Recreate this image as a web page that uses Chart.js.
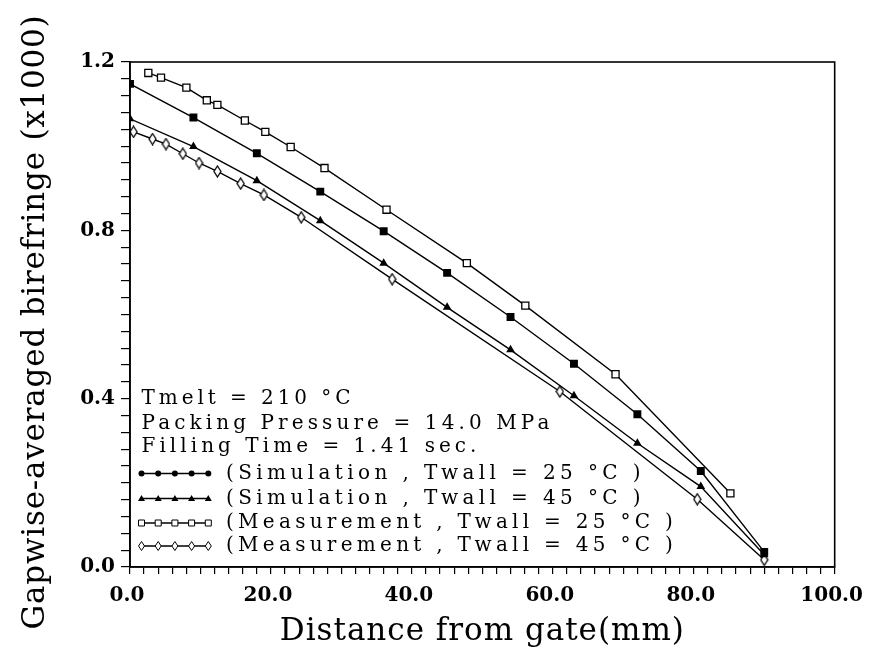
<!DOCTYPE html>
<html><head><meta charset="utf-8">
<script src="https://cdn.jsdelivr.net/npm/chart.js@4/dist/chart.umd.min.js"></script>
<style>html,body{margin:0;padding:0;background:#fff}canvas{display:block}</style>
</head><body>
<canvas id="c" width="876" height="649"></canvas>
<script>
// ---- text ----
const xTitle = 'Distance from gate(mm)';
const yTitle = 'Gapwise-averaged birefringe (x1000)';
const infoLines = ['Tmelt = 210 °C', 'Packing Pressure = 14.0 MPa', 'Filling Time = 1.41 sec.'];
const seriesLabels = [
  '(Simulation , Twall = 25 °C )',
  '(Simulation , Twall = 45 °C )',
  '(Measurement , Twall = 25 °C )',
  '(Measurement , Twall = 45 °C )'
];
// ---- tick labels ----
const xMajorTicks = [0, 20, 40, 60, 80, 100];
const yMajorTicks = [0, 0.4, 0.8, 1.2];
// ---- data ----
const simX   = [0, 9, 18, 27, 36, 45, 54, 63, 72, 81, 90];
const sim25Y = [1.148, 1.068, 0.983, 0.892, 0.798, 0.699, 0.594, 0.483, 0.363, 0.228, 0.036];
const sim45Y = [1.065, 0.999, 0.918, 0.823, 0.722, 0.617, 0.516, 0.407, 0.294, 0.191, 0.029];
const meas25X = [2.6, 4.4, 8.0, 10.9, 12.4, 16.3, 19.2, 22.8, 27.6, 36.4, 47.8, 56.1, 68.9, 85.2];
const meas25Y = [1.174, 1.163, 1.139, 1.109, 1.098, 1.061, 1.034, 0.998, 0.948, 0.849, 0.722, 0.621, 0.458, 0.175];
const meas45X = [0.5, 3.2, 5.1, 7.5, 9.8, 12.4, 15.7, 19.0, 24.3, 37.2, 61.0, 80.5, 90.0];
const meas45Y = [1.034, 1.017, 1.005, 0.982, 0.960, 0.940, 0.911, 0.884, 0.831, 0.684, 0.417, 0.161, 0.017];

const pts = (xs, ys) => xs.map((x, i) => ({x: x, y: ys[i]}));

function makeDiamond(w, h, lw) {
  const c = document.createElement('canvas');
  c.width = w + 2; c.height = h + 2;
  const g = c.getContext('2d');
  const cx = c.width / 2, cy = c.height / 2;
  g.beginPath();
  g.moveTo(cx, cy - h / 2); g.lineTo(cx + w / 2, cy); g.lineTo(cx, cy + h / 2); g.lineTo(cx - w / 2, cy); g.closePath();
  g.fillStyle = '#fff'; g.fill();
  g.lineWidth = lw; g.strokeStyle = '#000'; g.stroke();
  return c;
}
const diamondImg = makeDiamond(7, 11, 1.3);

const FONT = 'DejaVu Serif';

function spacedText(ctx, text, x, y, target, align) {
  ctx.letterSpacing = '0px';
  const w0 = ctx.measureText(text).width;
  const n = Array.from(text).length;
  const ls = Math.max(0, (target - w0) / n);
  ctx.letterSpacing = ls + 'px';
  const w = ctx.measureText(text).width;
  ctx.textAlign = 'left';
  const sx = align === 'center' ? x - w / 2 : x;
  ctx.fillText(text, sx, y);
  ctx.letterSpacing = '0px';
}

function drawMarker(ctx, kind, x, y) {
  ctx.save();
  ctx.fillStyle = '#000'; ctx.strokeStyle = '#000'; ctx.lineWidth = 1;
  ctx.beginPath();
  if (kind === 0) { ctx.arc(x, y, 3, 0, Math.PI * 2); ctx.fill(); }
  else if (kind === 1) { ctx.moveTo(x, y - 3.5); ctx.lineTo(x + 3.5, y + 2.5); ctx.lineTo(x - 3.5, y + 2.5); ctx.closePath(); ctx.fill(); }
  else if (kind === 2) { ctx.rect(x - 3, y - 3, 6, 6); ctx.fillStyle = '#fff'; ctx.fill(); ctx.stroke(); }
  else { ctx.moveTo(x, y - 4.5); ctx.lineTo(x + 3, y); ctx.lineTo(x, y + 4.5); ctx.lineTo(x - 3, y); ctx.closePath(); ctx.fillStyle = '#fff'; ctx.fill(); ctx.stroke(); }
  ctx.restore();
}

const textPlugin = {
  id: 'textPlugin',
  afterDraw(chart) {
    const ctx = chart.ctx;
    const a = chart.chartArea;
    ctx.save();
    // frame
    ctx.strokeStyle = '#000'; ctx.lineWidth = 1.6;
    ctx.strokeRect(a.left, a.top, a.right - a.left, a.bottom - a.top);
    ctx.fillStyle = '#000';
    // axis titles
    ctx.font = '31px "' + FONT + '"';
    ctx.textBaseline = 'alphabetic';
    spacedText(ctx, xTitle, (a.left + a.right) / 2, 640, 405, 'center');
    ctx.save();
    ctx.translate(44, 322);
    ctx.rotate(-Math.PI / 2);
    spacedText(ctx, yTitle, 0, 0, 615, 'center');
    ctx.restore();
    // info lines
    ctx.font = '20px "' + FONT + '"';
    ctx.textBaseline = 'middle';
    const infoY = [399, 424, 447];
    const infoW = [213, 412, 339];
    infoLines.forEach((t, i) => spacedText(ctx, t, 141.5, infoY[i], infoW[i], 'left'));
    // legend rows
    const rowY = [473.5, 498.5, 523, 546];
    const rowW = [419, 419, 451, 451];
    seriesLabels.forEach((t, i) => {
      ctx.save();
      ctx.strokeStyle = '#000'; ctx.lineWidth = 1.3;
      ctx.beginPath(); ctx.moveTo(141, rowY[i]); ctx.lineTo(208.5, rowY[i]); ctx.stroke();
      ctx.restore();
      for (let k = 0; k < 5; k++) drawMarker(ctx, i, 141.5 + k * 16.7, rowY[i]);
      ctx.fillStyle = '#000';
      spacedText(ctx, t, 226, rowY[i], rowW[i], 'left');
    });
    ctx.restore();
  }
};

const isMajor = (v, list) => list.some(m => Math.abs(v - m) < 1e-6);

const common = {showLine: true, borderColor: '#000', borderWidth: 1.4, tension: 0, fill: false,
  pointBorderColor: '#000', pointHoverRadius: 0};

new Chart(document.getElementById('c'), {
  type: 'scatter',
  data: {
    datasets: [
      Object.assign({}, common, {label: seriesLabels[0], data: pts(simX, sim25Y), pointStyle: 'rect', pointRadius: 5.6, pointBackgroundColor: '#000', pointBorderWidth: 0}),
      Object.assign({}, common, {label: seriesLabels[1], data: pts(simX, sim45Y), pointStyle: 'triangle', pointRadius: 5, pointBackgroundColor: '#000', pointBorderWidth: 0}),
      Object.assign({}, common, {label: seriesLabels[2], data: pts(meas25X, meas25Y), pointStyle: 'rect', pointRadius: 5, pointBackgroundColor: '#fff', pointBorderWidth: 1.3}),
      Object.assign({}, common, {label: seriesLabels[3], data: pts(meas45X, meas45Y), pointStyle: diamondImg, pointRadius: 6, pointBackgroundColor: '#fff', pointBorderWidth: 1.3})
    ]
  },
  options: {
    responsive: false,
    devicePixelRatio: 1,
    animation: false,
    events: [],
    layout: {padding: {left: 0, top: 62, right: 31, bottom: 0}},
    plugins: {legend: {display: false}, tooltip: {enabled: false}, title: {display: false}},
    scales: {
      x: {
        type: 'linear', position: 'bottom', min: 0, max: 100,
        border: {display: true, color: '#000', width: 1.6},
        grid: {drawOnChartArea: false, drawTicks: true, tickLength: 7, color: '#000', lineWidth: 1.2},
        ticks: {
          stepSize: 2, autoSkip: false, maxRotation: 0, minRotation: 0, padding: 10, labelOffset: -3,
          color: '#000', font: {family: FONT, size: 20, weight: 'bold'},
          callback: (v) => isMajor(v, xMajorTicks) ? Number(v).toFixed(1) : ''
        },
        afterFit: (s) => { s.height = 82; }
      },
      y: {
        type: 'linear', min: 0, max: 1.2,
        border: {display: true, color: '#000', width: 1.6},
        grid: {drawOnChartArea: false, drawTicks: true, tickLength: 9, color: '#000', lineWidth: 1.2},
        ticks: {
          stepSize: 0.04, autoSkip: false, padding: 6,
          color: '#000', font: {family: FONT, size: 20, weight: 'bold'},
          callback: (v) => isMajor(v, yMajorTicks) ? Number(v).toFixed(1) : ''
        },
        afterFit: (s) => { s.width = 130; }
      }
    }
  },
  plugins: [textPlugin]
});
</script>
</body></html>
